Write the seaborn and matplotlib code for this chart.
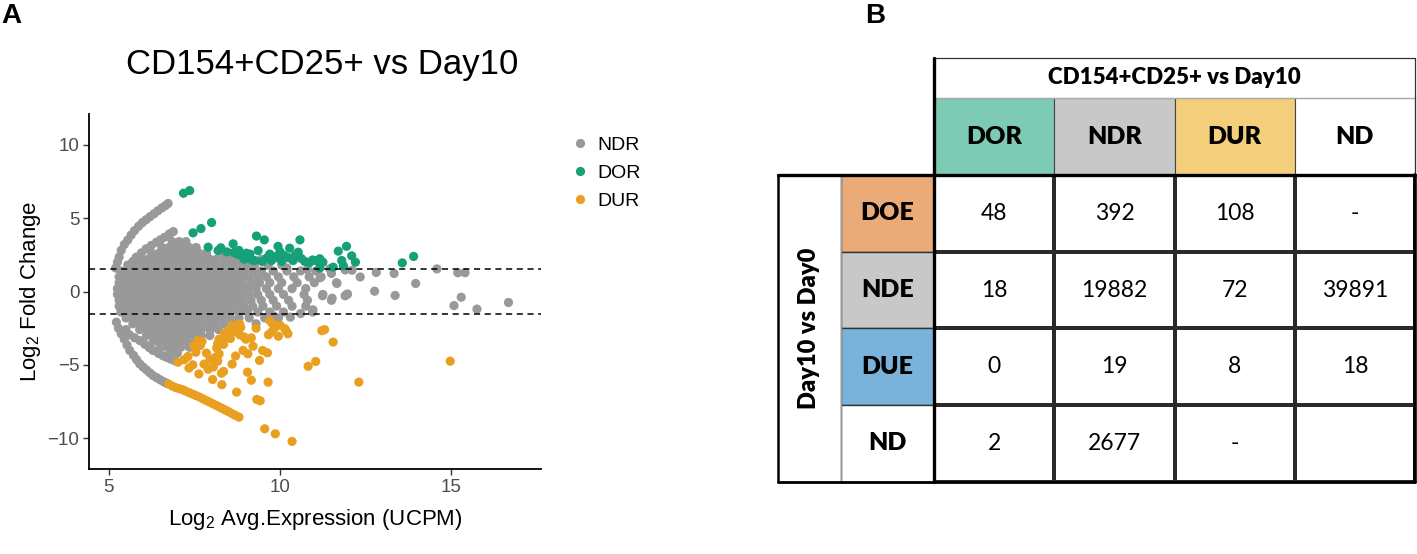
import numpy as np
import pandas as pd
import matplotlib
matplotlib.use('Agg')
import matplotlib.pyplot as plt
from matplotlib.patches import Rectangle
from matplotlib.colors import ListedColormap
import seaborn as sns

# ---------------- data: panel A (MA plot) ----------------
# dense NDR cloud, one list of x positions per y row
core_y = [3.4, 3.0, 2.6, 2.2, 1.8, 1.4, 1.0, 0.6, 0.2, -0.2, -0.6, -1.0, -1.4, -1.8, -2.2, -2.6, -3.0, -3.4, -3.8, -4.2]
core_x = [
    [6.85, 7.05, 7.25],
    [6.55, 6.75, 6.95, 7.15, 7.35, 7.55],
    [6.25, 6.45, 6.65, 6.85, 7.05, 7.25, 7.45, 7.65, 7.85, 8.35],
    [5.95, 6.15, 6.35, 6.55, 6.75, 6.95, 7.15, 7.35, 7.55, 7.75, 7.95, 8.15, 8.4, 8.6, 8.85, 9.45],
    [5.55, 5.75, 5.95, 6.15, 6.35, 6.55, 6.75, 6.95, 7.15, 7.35, 7.55, 7.75, 7.95, 8.15, 8.35, 8.55, 8.75, 9.0, 9.25, 9.65, 10.05],
    [5.35, 5.55, 5.75, 5.95, 6.15, 6.35, 6.55, 6.75, 6.95, 7.15, 7.35, 7.55, 7.75, 7.95, 8.15, 8.35, 8.55, 8.75, 8.95, 9.2, 9.45, 9.8, 10.2, 10.6, 11.05],
    [5.3, 5.5, 5.7, 5.9, 6.1, 6.3, 6.5, 6.7, 6.9, 7.1, 7.3, 7.5, 7.7, 7.9, 8.1, 8.3, 8.5, 8.7, 8.9, 9.1, 9.35, 9.6, 9.95, 10.4, 10.85, 11.2],
    [5.3, 5.5, 5.7, 5.9, 6.1, 6.3, 6.5, 6.7, 6.9, 7.1, 7.3, 7.5, 7.7, 7.9, 8.1, 8.3, 8.5, 8.7, 8.9, 9.15, 9.4, 9.7, 10.05, 10.5, 11.0, 11.65],
    [5.25, 5.45, 5.65, 5.85, 6.05, 6.25, 6.45, 6.65, 6.85, 7.05, 7.25, 7.45, 7.65, 7.85, 8.05, 8.25, 8.45, 8.65, 8.85, 9.05, 9.3, 9.6, 9.95, 10.35, 10.75],
    [5.25, 5.45, 5.65, 5.85, 6.05, 6.25, 6.45, 6.65, 6.85, 7.05, 7.25, 7.45, 7.65, 7.85, 8.05, 8.25, 8.45, 8.65, 8.85, 9.1, 9.35, 9.7, 10.1, 10.7, 11.25, 11.95],
    [5.3, 5.5, 5.7, 5.9, 6.1, 6.3, 6.5, 6.7, 6.9, 7.1, 7.3, 7.5, 7.7, 7.9, 8.1, 8.3, 8.5, 8.7, 8.9, 9.15, 9.45, 9.8, 10.25, 10.8, 11.5],
    [5.3, 5.5, 5.7, 5.9, 6.1, 6.3, 6.5, 6.7, 6.9, 7.1, 7.3, 7.5, 7.7, 7.9, 8.1, 8.3, 8.5, 8.7, 8.95, 9.2, 9.5, 9.9, 10.35, 10.75],
    [5.35, 5.55, 5.75, 5.95, 6.15, 6.35, 6.55, 6.75, 6.95, 7.15, 7.35, 7.55, 7.75, 7.95, 8.15, 8.35, 8.55, 8.8, 9.05, 9.35, 9.7, 10.1, 10.95],
    [5.5, 5.7, 5.9, 6.1, 6.3, 6.5, 6.7, 6.9, 7.1, 7.3, 7.5, 7.7, 7.9, 8.1, 8.3, 8.55, 8.8, 9.1, 9.55, 9.95],
    [5.7, 5.9, 6.1, 6.3, 6.5, 6.7, 6.9, 7.1, 7.3, 7.5, 7.7, 7.9, 8.1, 8.35, 8.6, 9.3],
    [5.9, 6.1, 6.3, 6.5, 6.7, 6.9, 7.1, 7.3, 7.5, 7.7, 7.95, 8.2],
    [6.1, 6.3, 6.5, 6.7, 6.9, 7.1, 7.3, 7.5, 7.7, 7.95],
    [6.3, 6.5, 6.7, 6.9, 7.1, 7.3, 7.55],
    [6.5, 6.7, 6.9, 7.1, 7.35],
    [6.8, 7.0],
]

# NDR arcs (genes missing in one group) and scattered NDR genes
ndr_arc_x = [5.2, 5.25, 5.3, 5.36, 5.45, 5.55, 5.65, 5.75, 5.87, 5.98, 6.09, 6.2, 6.32, 6.43, 6.55, 6.65, 6.73,
             5.6, 5.7, 5.8, 5.95, 6.09, 6.24, 6.39, 6.51, 6.63, 6.77, 6.88,
             5.22, 5.28, 5.36, 5.45, 5.53, 5.61, 5.72, 5.81, 5.9, 6.0, 6.1, 6.2, 6.29, 6.4, 6.5, 6.6, 6.68,
             5.5, 5.6, 5.75, 5.9, 6.05, 6.18, 6.29, 6.45, 6.58, 6.68, 6.8, 6.92]
ndr_arc_y = [1.6, 2.0, 2.35, 2.8, 3.2, 3.5, 3.85, 4.15, 4.45, 4.7, 4.9, 5.1, 5.3, 5.5, 5.7, 5.85, 6.0,
             1.77, 2.05, 2.34, 2.63, 2.91, 3.14, 3.36, 3.53, 3.7, 3.93, 4.08,
             -2.09, -2.5, -2.88, -3.25, -3.65, -4.02, -4.35, -4.65, -4.93, -5.15, -5.35, -5.55, -5.73, -5.88, -6.02, -6.15, -6.25,
             -2.6, -2.95, -3.15, -3.34, -3.6, -3.82, -4.02, -4.22, -4.38, -4.48, -4.6, -4.72]
ndr_extra_x = [12.34, 12.76, 12.81, 13.33, 13.36, 13.96, 14.58, 15.19, 15.4, 15.08, 15.29, 15.75, 16.67,
               11.9, 11.97, 11.52, 11.24, 11.66, 11.17, 11.5, 10.96, 11.9, 10.6, 10.3, 9.8, 12.1,
               10.8, 11.45, 10.2]
ndr_extra_y = [0.99, 0.02, 1.3, 1.23, -0.27, 0.55, 1.54, 1.28, 1.28, -0.96, -0.39, -1.2, -0.75,
               -0.29, -0.17, -0.46, -0.29, 0.55, 0.94, 1.23, -1.25, 1.47, -1.5, -1.75, -1.65, 1.45,
               1.5, 1.55, 1.6]

# DOR (green)
dor_x = [7.18, 7.36, 7.46, 7.69, 8.0, 7.9, 8.27, 8.19, 8.63, 8.65, 8.75, 8.87, 9.02, 9.12, 9.08, 9.31, 9.54,
         9.36, 9.26, 9.48, 9.75, 9.94, 9.89, 9.98, 10.05, 10.12, 10.28, 10.38, 10.53, 10.58, 10.62, 10.72,
         10.85, 10.95, 11.16, 11.25, 11.16, 11.55, 11.7, 11.94, 11.8, 12.09, 12.2, 11.85, 13.57, 13.9,
         9.62, 9.18, 8.45, 8.95, 10.25, 10.45, 11.05, 10.0, 9.7, 8.8]
dor_y = [6.7, 6.88, 4.0, 4.29, 4.7, 3.02, 2.98, 2.79, 3.25, 2.66, 2.55, 2.45, 2.61, 2.55, 2.3, 3.78, 3.52,
         2.79, 2.11, 2.05, 2.11, 3.08, 2.39, 2.25, 2.05, 2.45, 2.95, 2.11, 2.68, 3.52, 2.25, 2.05,
         1.95, 2.15, 2.23, 2.0, 1.6, 1.66, 2.75, 3.08, 2.11, 2.43, 2.0, 1.75, 1.95, 2.39,
         2.3, 2.15, 2.7, 2.2, 2.3, 2.5, 2.1, 2.7, 2.55, 2.8]

# DUR (orange): lower arc and scattered genes
dur_arc_x = [6.75, 6.85, 6.95, 7.02, 7.05, 7.16, 7.25, 7.35, 7.45, 7.55, 7.65, 7.75, 7.85, 7.95, 8.05,
             8.15, 8.25, 8.33, 8.42, 8.5, 8.6, 8.7, 8.8]
dur_arc_y = [-6.32, -6.45, -6.55, -4.82, -6.62, -6.7, -6.8, -6.9, -7.0, -7.1, -7.2, -7.32, -7.44, -7.55, -7.67,
             -7.78, -7.9, -8.0, -8.1, -8.2, -8.33, -8.45, -8.57]
dur_x = [8.82, 8.63, 8.38, 8.52, 8.72, 8.85, 8.82, 8.95, 9.16, 9.21, 8.92, 9.06, 9.49, 9.63, 9.7, 9.78,
         9.85, 9.75, 9.66, 10.14, 10.23, 10.18, 11.22, 11.3, 11.55, 10.82, 11.04, 12.3, 9.65, 9.16, 9.32,
         9.42, 9.55, 9.86, 10.35, 8.73, 8.3, 8.03, 8.29, 8.35, 8.6, 8.18, 8.1, 8.22, 7.95, 7.78, 7.63,
         7.34, 7.31, 7.54, 7.67, 7.72, 8.18, 8.22, 8.15, 7.2, 14.97, 9.0, 8.4, 7.48, 7.59, 8.48, 8.35,
         7.85, 8.55, 9.3, 8.05, 7.45, 8.7, 9.4, 7.9, 9.05, 10.0, 9.95, 8.6]
dur_y = [-2.2, -2.77, -2.84, -2.7, -2.55, -2.45, -2.95, -3.1, -3.16, -3.73, -4.02, -4.25, -4.02, -4.18, -1.98, -2.2,
         -2.45, -2.77, -2.95, -2.54, -2.88, -2.7, -2.67, -2.6, -3.45, -5.1, -4.77, -6.18, -6.18, -6.05, -7.36,
         -7.45, -9.36, -9.7, -10.22, -6.86, -6.35, -6.0, -5.57, -5.45, -4.95, -4.75, -4.5, -4.25, -4.65, -4.95, -5.62,
         -5.22, -4.43, -4.14, -3.68, -3.4, -3.54, -3.25, -3.85, -4.65, -4.75, -3.25, -3.1, -3.72, -3.35, -2.7, -3.6,
         -4.2, -3.2, -2.5, -5.15, -5.0, -4.4, -4.7, -5.3, -5.5, -2.3, -3.05, -2.3]

fc_cutoff = 1.55

# ---------------- data: panel B (overlap table) ----------------
col_labels = ['DOR', 'NDR', 'DUR', 'ND']
row_labels = ['DOE', 'NDE', 'DUE', 'ND']
counts = [['48', '392', '108', '-'],
          ['18', '19882', '72', '39891'],
          ['0', '19', '8', '18'],
          ['2', '2677', '-', '']]
col_colors = ['#7ECBB5', '#C8C8C8', '#F3CF7B', '#FFFFFF']
row_colors = ['#EBAB79', '#C8C8C8', '#79B3DC', '#FFFFFF']

# ---------------- build frame ----------------
xs, ys, grp = [], [], []
for yv, row in zip(core_y, core_x):
    for xv in row:
        xs.append(xv); ys.append(yv); grp.append('NDR')
for x_list, y_list, name in [(ndr_arc_x, ndr_arc_y, 'NDR'), (ndr_extra_x, ndr_extra_y, 'NDR'),
                             (dor_x, dor_y, 'DOR'), (dur_arc_x, dur_arc_y, 'DUR'), (dur_x, dur_y, 'DUR')]:
    xs += x_list; ys += y_list; grp += [name] * len(x_list)
df = pd.DataFrame({'A': xs, 'M': ys, 'group': grp})

sns.set_theme(style='white')
plt.rcParams['font.family'] = ['Liberation Sans', 'DejaVu Sans']
plt.rcParams['mathtext.fontset'] = 'custom'
plt.rcParams['mathtext.rm'] = 'Liberation Sans'
plt.rcParams['text.color'] = 'black'
plt.rcParams['axes.labelcolor'] = 'black'

W, H = 1417, 554
fig = plt.figure(figsize=(W / 100, H / 100), dpi=100)


def fx(px):
    return px / W


def fy(py):
    return 1 - py / H


# ---------------- panel A ----------------
ax = fig.add_axes([fx(89), fy(469), fx(541) - fx(89), fy(114) - fy(469)])
palette = {'NDR': '#999999', 'DOR': '#16A077', 'DUR': '#E9A020'}
sns.scatterplot(data=df, x='A', y='M', hue='group', hue_order=['NDR', 'DOR', 'DUR'],
                palette=palette, s=44, linewidth=0, alpha=1, ax=ax)
ax.axhline(fc_cutoff, color='black', lw=1.1, ls=(0, (4, 3)))
ax.axhline(-fc_cutoff, color='black', lw=1.1, ls=(0, (4, 3)))

ax.set_xlim(4.42, 17.62)
ax.set_ylim(-12.1, 12.1)
ax.set_xticks([5, 10, 15])
ax.set_yticks([-10, -5, 0, 5, 10])
for s in ['top', 'right']:
    ax.spines[s].set_visible(False)
for s in ['left', 'bottom']:
    ax.spines[s].set_color('black')
    ax.spines[s].set_linewidth(1.3)
ax.tick_params(axis='both', direction='out', length=4, width=1, color='#333333',
               labelcolor='#4D4D4D', labelsize=13.5, pad=3, left=True, bottom=True)
ax.set_xlabel('Log$_{\\mathregular{2}}$ Avg.Expression (UCPM)', fontsize=16, color='black', labelpad=8)
ax.set_ylabel('Log$_{\\mathregular{2}}$ Fold Change', fontsize=16, color='black', labelpad=3)

handles, labels = ax.get_legend_handles_labels()
ax.get_legend().remove()
fig.legend(handles, labels, loc='upper left', bbox_to_anchor=(fx(570), fy(136)), frameon=False,
           fontsize=14, borderpad=0, borderaxespad=0, handlelength=1.0, handletextpad=0.4,
           labelspacing=0.55)

fig.text(fx(322), fy(74), 'CD154+CD25+ vs Day10', ha='center', va='baseline', fontsize=25)
fig.text(fx(1), fy(23), 'A', ha='left', va='baseline', fontsize=20, fontweight='bold')
fig.text(fx(865), fy(23), 'B', ha='left', va='baseline', fontsize=20, fontweight='bold')

# ---------------- panel B ----------------
axt = fig.add_axes([fx(934.3), fy(481.7), fx(1415) - fx(934.3), fy(175) - fy(481.7)])
sns.heatmap(np.zeros((4, 4)), ax=axt, cmap=ListedColormap(['white']), cbar=False,
            annot=np.array(counts), fmt='', linewidths=1.6, linecolor='#2A2A2A',
            xticklabels=False, yticklabels=False,
            annot_kws={'fontsize': 16.5, 'color': 'black', 'family': 'Lato'})

hdr_font = dict(family='Lato', fontweight='heavy', fontsize=18, color='black', ha='center', va='center')
# title cell
axt.add_patch(Rectangle((0, -1.52), 4, 0.52, facecolor='white', edgecolor='none', clip_on=False))
axt.plot([0, 4], [-1.52, -1.52], color='#333333', lw=0.9, clip_on=False)
axt.plot([0, 4], [-1.0, -1.0], color='#AAAAAA', lw=0.9, clip_on=False)
axt.plot([4, 4], [-1.52, 0], color='#333333', lw=0.9, clip_on=False)
axt.text(2, -1.27, 'CD154+CD25+ vs Day10', family='Lato', fontweight='heavy', fontsize=16,
         ha='center', va='center', clip_on=False)
# column headers
for i, (lab, col) in enumerate(zip(col_labels, col_colors)):
    axt.add_patch(Rectangle((i, -1.0), 1, 1.0, facecolor=col, edgecolor='#444444', lw=0.8, clip_on=False))
    axt.text(i + 0.5, -0.5, lab, clip_on=False, **hdr_font)
# row headers
for j, (lab, col) in enumerate(zip(row_labels, row_colors)):
    axt.add_patch(Rectangle((-0.78, j), 0.78, 1, facecolor=col, edgecolor='#333333', lw=1.0, clip_on=False))
    axt.text(-0.39, j + 0.5, lab, clip_on=False, **hdr_font)
axt.plot([-0.78, -0.78], [0, 4], color='#999999', lw=1.0, clip_on=False)
axt.text(-1.04, 2, 'Day10 vs Day0', family='Lato', fontweight='heavy', fontsize=17,
         rotation=90, ha='center', va='center', clip_on=False)

# heavy borders
axt.plot([-1.3, 4], [0, 0], color='black', lw=2.4, clip_on=False)
axt.plot([0, 0], [-1.52, 4], color='black', lw=2.4, clip_on=False)
axt.plot([4, 4], [0, 4], color='black', lw=2.6, clip_on=False)
axt.plot([-1.3, 4], [4, 4], color='black', lw=2.0, clip_on=False)
axt.plot([-1.3, -1.3], [0, 4], color='black', lw=1.8, clip_on=False)

fig.savefig('out.png', dpi=100)
